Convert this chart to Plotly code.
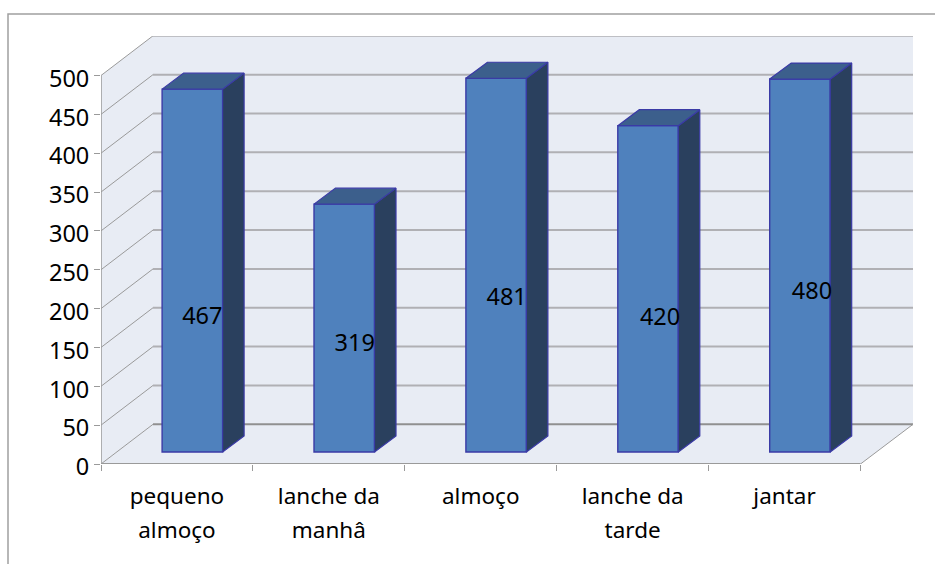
import plotly.graph_objects as go

categories = ["pequeno<br>almoço", "lanche da<br>manhâ", "almoço", "lanche da<br>tarde", "jantar"]
values = [467, 319, 481, 420, 480]
label_heights = [188, 153.3, 212.5, 186.5, 220.3]
label_nudges = [10, 10.5, 10.5, 12, 12]
y_ticks = list(range(0, 501, 50))

# pixel geometry of the pseudo-3D box
W, H = 935, 564
L, R, T, B = 101, 913, 36, 464
PX_X = 151.9           # px per category
PX_Y = 388.5 / 500     # px per value unit
dx = lambda px: px / PX_X
dy = lambda px: px / PX_Y
X0, X1 = 0.5, 5.5
BACK_X, BACK_Y = dx(52), dy(39.7)
XMAX = X0 + (R - L) / PX_X
YMAX = (B - T) / PX_Y
BAR_W = dx(60.5)
BAR_SHIFT_X, BAR_BASE = dx(15.4), dy(12)
DEPTH_X, DEPTH_Y = dx(21.5), dy(16)

WALL = "#E8ECF4"
GRID = "#B0B0B4"
AXIS = "#9A9A9A"
OUT = "#3A3AA6"
FRONT = "#4F81BD"
TOP = "#3C5F8C"
SIDE = "#2A405E"

cx = [i + 1 + BAR_SHIFT_X for i in range(5)]

fig = go.Figure()
fig.add_bar(x=cx, y=values, base=BAR_BASE, width=BAR_W,
            marker=dict(color=FRONT, line=dict(color=OUT, width=1.4)))

for c, v in zip(cx, values):
    xl, xr = c - BAR_W / 2, c + BAR_W / 2
    yt, yb = BAR_BASE + v, BAR_BASE
    fig.add_scatter(x=[xr, xr + DEPTH_X, xr + DEPTH_X, xr, xr],
                    y=[yb, yb + DEPTH_Y, yt + DEPTH_Y, yt, yb],
                    mode="lines", fill="toself", fillcolor=SIDE,
                    line=dict(color=OUT, width=1.2))
    fig.add_scatter(x=[xl, xl + DEPTH_X, xr + DEPTH_X, xr, xl],
                    y=[yt, yt + DEPTH_Y, yt + DEPTH_Y, yt, yt],
                    mode="lines", fill="toself", fillcolor=TOP,
                    line=dict(color=OUT, width=1.2))

fig.add_scatter(x=[c + dx(n) for c, n in zip(cx, label_nudges)], y=label_heights,
                mode="text", text=[str(v) for v in values], textposition="middle center",
                textfont=dict(family="Noto Sans", size=23.5, color="#000000"))

shapes = []
def poly(xs, ys):
    return "M" + "L".join(f"{x},{y}" for x, y in zip(xs, ys)) + "Z"

shapes.append(dict(type="path", layer="below", line=dict(width=0), fillcolor=WALL,
                   path=poly([X0 + BACK_X, XMAX, XMAX, X0 + BACK_X], [BACK_Y, BACK_Y, YMAX, YMAX])))
shapes.append(dict(type="path", layer="below", line=dict(width=0), fillcolor=WALL,
                   path=poly([X0, X0 + BACK_X, X0 + BACK_X, X0], [0, BACK_Y, 500 + BACK_Y, 500])))
shapes.append(dict(type="path", layer="below", line=dict(width=0), fillcolor=WALL,
                   path=poly([X0, X1, XMAX, X0 + BACK_X], [0, 0, BACK_Y, BACK_Y])))
for v in y_ticks:
    shapes.append(dict(type="line", layer="below", x0=X0 + BACK_X, x1=XMAX, y0=v + BACK_Y, y1=v + BACK_Y,
                       line=dict(color="#909090" if v == 0 else GRID, width=2)))
    shapes.append(dict(type="line", layer="below", x0=X0, x1=X0 + BACK_X, y0=v, y1=v + BACK_Y,
                       line=dict(color=AXIS, width=1)))
shapes.append(dict(type="line", layer="below", x0=X0, x1=X1, y0=0, y1=0, line=dict(color=AXIS, width=2)))
shapes.append(dict(type="line", layer="below", x0=X0, x1=X0, y0=0, y1=500, line=dict(color=AXIS, width=1.5)))
shapes.append(dict(type="line", layer="below", x0=X1, x1=XMAX, y0=0, y1=BACK_Y, line=dict(color=AXIS, width=1)))
# outer chart frame, runs off the picture on the right and the bottom
shapes.append(dict(type="rect", xref="paper", yref="paper", layer="below",
                   x0=(8 - L) / (R - L), x1=(W + 20 - L) / (R - L),
                   y0=(B - (H + 20)) / (B - T), y1=(B - 14) / (B - T),
                   line=dict(color="#A0A0A0", width=1.5)))

fig.update_layout(
    width=W, height=H, autosize=False, showlegend=False,
    margin=dict(l=L, r=W - R, t=T, b=H - B, pad=0),
    paper_bgcolor="#FFFFFF", plot_bgcolor="rgba(0,0,0,0)",
    shapes=shapes,
    xaxis=dict(range=[X0, XMAX], showgrid=False, zeroline=False, showline=False,
               tickmode="array", tickvals=[1, 2, 3, 4, 5],
               ticktext=[f'<span style="font-size:22.5px">' + c.replace("<br>", '</span><br><span style="font-size:22.5px">') + "</span>" for c in categories],
               tickangle=0, ticks="", ticklabelstandoff=13,
               tickfont=dict(family="Noto Sans", size=26, color="#000000"),
               minor=dict(tickmode="array", tickvals=[0.5, 1.5, 2.5, 3.5, 4.5, 5.5],
                          ticks="outside", ticklen=6, tickcolor=AXIS, tickwidth=1, showgrid=False)),
    yaxis=dict(range=[0, YMAX], showgrid=False, zeroline=False, showline=False,
               tickmode="array", tickvals=y_ticks, ticktext=[str(v) for v in y_ticks],
               ticks="outside", ticklen=6, tickcolor=AXIS, tickwidth=1, ticklabelshift=3,
               tickfont=dict(family="Noto Sans", size=23.5, color="#000000")),
)

fig.write_html("out.html", post_script="document.body.style.margin='0';", config={"displayModeBar": False})
